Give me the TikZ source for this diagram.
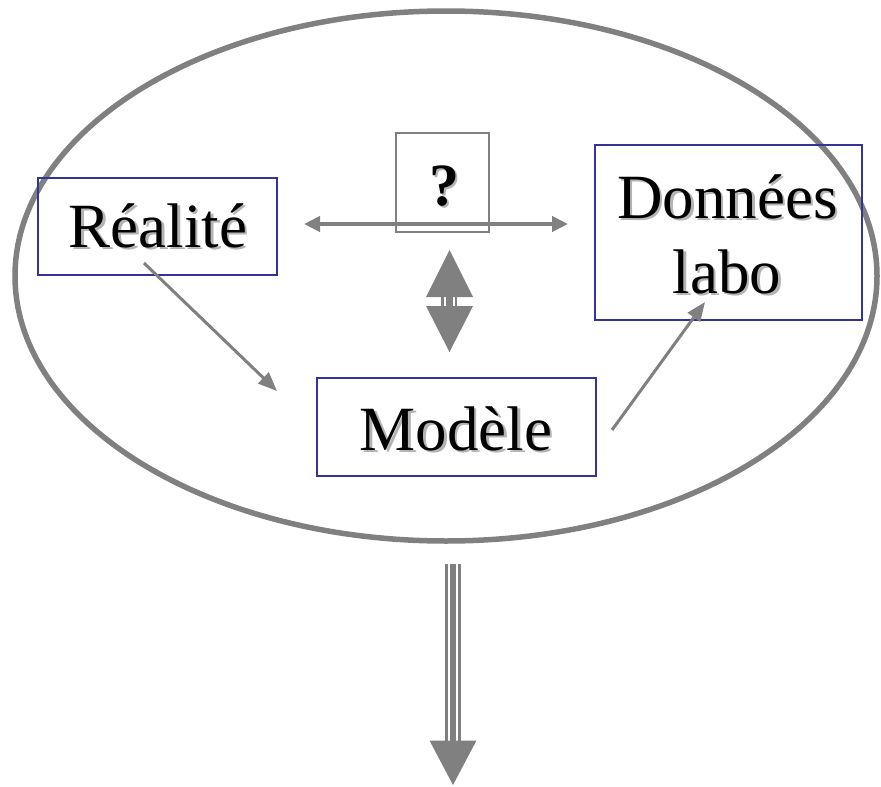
\documentclass[tikz,border=0pt]{standalone}
\usepackage{fontspec}
\setmainfont{Liberation Serif}
\usetikzlibrary{arrows.meta,shapes.geometric,calc}
\definecolor{arrgray}{HTML}{808080}
\definecolor{boxblue}{HTML}{333399}
\definecolor{shadowgray}{HTML}{B4B4B4}
\newcommand{\shd}[1]{\makebox[0pt][l]{\hspace{2.5pt}\raisebox{-2.5pt}{\textcolor{shadowgray}{#1}}}#1}
\tikzset{
  bluebox/.style={draw=boxblue, line width=2pt, inner sep=0pt, fill=none},
  qbox/.style={draw=arrgray, line width=1.6pt, inner sep=0pt},
  lbl/.style={inner sep=0pt, anchor=base, font=\fontsize{63}{70}\selectfont},
  qlbl/.style={inner sep=0pt, anchor=base, font=\fontsize{60}{66}\selectfont\bfseries},
  garrow/.style={draw=arrgray, line width=3pt, -{Triangle[length=19pt,width=15pt]}},
  hgarrow/.style={draw=arrgray, line width=4pt, {Triangle[length=16pt,width=15pt]}-{Triangle[length=16pt,width=15pt]}},
}
\begin{document}
\begin{tikzpicture}[x=1pt,y=-1pt]
\useasboundingbox (0,0) rectangle (881,787);
% big oval
\node[ellipse, draw=arrgray, line width=5.5pt, minimum width=862pt, minimum height=530pt, inner sep=0pt] (oval) at (446,276) {};
% boxes
\node[bluebox, minimum width=239pt, minimum height=97pt] (rea) at (157.5,226.5) {};
\node[qbox, minimum width=93pt, minimum height=99pt] (qb) at (442.5,182.5) {};
\node[bluebox, minimum width=267pt, minimum height=175pt] (don) at (728.5,232.5) {};
\node[bluebox, minimum width=279pt, minimum height=98pt] (mod) at (456.5,427) {};
% texts
\node[lbl] (trea) at (158,247) {\shd{Réalité}};
\node[lbl] (tmod) at (456,450) {\shd{Modèle}};
\node[lbl] (tdon1) at (727.5,218) {\shd{Données}};
\node[lbl] (tdon2) at (727,293) {\shd{labo}};
\node[qlbl] (tq) at (444,205) {\shd{?}};
% connectors
\coordinate (a1) at (144,263);
\coordinate (a2) at (277,391);
\draw[garrow] (a1) -- (a2);
\coordinate (b1) at (612,430);
\coordinate (b2) at (705,302);
\draw[garrow] (b1) -- (b2);
\coordinate (h1) at (304,224);
\coordinate (h2) at (568,224);
\draw[hgarrow] (h1) -- (h2);
% vertical double arrow
\coordinate (d1) at (449.5,250);
\coordinate (d2) at (449.5,352);
\fill[arrgray] ($(d1)+(-23.5,47)$) -- ($(d1)+(23.5,47)$) -- (d1) -- cycle;
\fill[arrgray] ($(d2)+(-23.5,-46)$) -- ($(d2)+(23.5,-46)$) -- (d2) -- cycle;
\fill[arrgray] (441,297) rectangle (443.5,306);
\fill[arrgray] (445.5,297) rectangle (452.5,306);
\fill[arrgray] (454.5,297) rectangle (457,306);
% bottom arrow
\coordinate (e1) at (453,564);
\coordinate (e2) at (453,785);
\fill[arrgray] ($(e1)+(-8.5,0)$) rectangle ($(e1)+(-5.5,177)$);
\fill[arrgray] ($(e1)+(-3.5,0)$) rectangle ($(e1)+(3,177)$);
\fill[arrgray] ($(e1)+(4.5,0)$) rectangle ($(e1)+(7.5,177)$);
\fill[arrgray] ($(e2)+(-23.5,-44.5)$) -- ($(e2)+(23.5,-44.5)$) -- (e2) -- cycle;
\end{tikzpicture}
\end{document}
